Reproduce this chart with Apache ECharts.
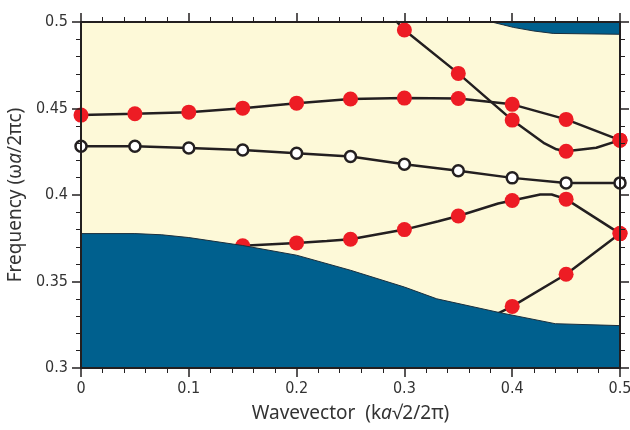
<!DOCTYPE html>
<html>
<head>
<meta charset="utf-8">
<script src="https://cdn.jsdelivr.net/npm/echarts@6/dist/echarts.min.js"></script>
<style>html,body{margin:0;padding:0;background:#fff;}#c{width:630px;height:430px;}</style>
</head>
<body>
<div id="c"></div>
<script>
// ---- data ----
const xTicks = [0, 0.1, 0.2, 0.3, 0.4, 0.5];
const yTicks = [0.3, 0.35, 0.4, 0.45, 0.5];

// upper red band
const upperX = [0, 0.05, 0.1, 0.15, 0.2, 0.25, 0.3, 0.35, 0.4, 0.45, 0.5];
const upperY = [0.4462, 0.4470, 0.4479, 0.4502, 0.4531, 0.4555, 0.4560, 0.4558, 0.4524, 0.4437, 0.4317];

// white (open circle) band
const whiteX = [0, 0.05, 0.1, 0.15, 0.2, 0.25, 0.3, 0.35, 0.4, 0.45, 0.5];
const whiteY = [0.4282, 0.4282, 0.4272, 0.4260, 0.4241, 0.4223, 0.4178, 0.4140, 0.4099, 0.4070, 0.4070];

// descending red band (1 = marker, 0 = bend only)
const descX = [0.292, 0.30, 0.35, 0.40, 0.43, 0.441, 0.45, 0.478, 0.50];
const descY = [0.5008, 0.4954, 0.4703, 0.4433, 0.4298, 0.4264, 0.4253, 0.4273, 0.4317];
const descM = [0, 1, 1, 1, 0, 0, 1, 0, 1];

// lower red band
const lowX = [0.15, 0.2, 0.228, 0.25, 0.3, 0.3315, 0.35, 0.387, 0.4, 0.426, 0.4366, 0.45, 0.5];
const lowY = [0.3706, 0.3723, 0.3734, 0.3744, 0.3800, 0.3848, 0.3879, 0.3951, 0.3968, 0.4003, 0.4003, 0.3976, 0.3777];
const lowM = [1, 1, 0, 1, 1, 0, 1, 0, 1, 0, 0, 1, 1];

// rising red band
const riseX = [0.385, 0.4, 0.45, 0.5];
const riseY = [0.3310, 0.3356, 0.3542, 0.3777];
const riseM = [0, 1, 1, 1];

// blue region boundaries
const blueLowX = [0, 0.05, 0.075, 0.1, 0.15, 0.2, 0.25, 0.3, 0.33, 0.39, 0.44, 0.5];
const blueLowY = [0.3777, 0.3777, 0.3770, 0.3754, 0.3708, 0.3652, 0.3565, 0.3468, 0.3400, 0.3318, 0.3256, 0.3245];
const blueTopX = [0.381, 0.392, 0.401, 0.42, 0.438, 0.5];
const blueTopY = [0.5, 0.4983, 0.4969, 0.4948, 0.4934, 0.4929];

// ---- styles ----
const RED = '#ed1c24', BLUE = '#00608e', CREAM = '#fdf9d8', INK = '#231f20';
const LABEL_FONT = "'Liberation Sans Narrow','DejaVu Sans Condensed','Liberation Sans',sans-serif";
const NAME_FONT = "'Noto Sans','Open Sans',sans-serif";

function pts(xs, ys, ms, sym) {
  return xs.map((x, i) => ({ value: [x, ys[i]], symbol: (ms ? ms[i] : 1) ? sym : 'none' }));
}
function redSeries(xs, ys, ms) {
  return {
    type: 'line', data: pts(xs, ys, ms, 'circle'), symbolSize: 15, showAllSymbol: true,
    itemStyle: { color: RED, borderWidth: 0 }, lineStyle: { color: INK, width: 2.5 },
    z: 3, animation: false, clip: true
  };
}

const chart = echarts.init(document.getElementById('c'), null, { renderer: 'canvas' });
const axisCommon = {
  type: 'value', min: 0, max: 0.5, interval: 0.1,
  axisLine: { show: true, onZero: false, lineStyle: { color: INK, width: 2 } },
  axisTick: { show: true, length: 9, lineStyle: { color: INK, width: 1.5 } },
  minorTick: { show: true, splitNumber: 5, length: 5, lineStyle: { color: INK, width: 1 } },
  splitLine: { show: false }, z: 10
};
chart.setOption({
  animation: false,
  grid: { left: 81, right: 10, top: 22, bottom: 62, show: true, backgroundColor: CREAM, borderWidth: 0,
          containLabel: false, outerBoundsMode: 'none' },
  xAxis: [
    Object.assign({}, axisCommon, {
      position: 'bottom',
      axisLabel: { show: true, margin: 13, fontSize: 16, color: '#333', fontFamily: LABEL_FONT,
        formatter: v => xTicks.includes(Math.round(v * 10) / 10) ? String(Math.round(v * 10) / 10) : '' },
      name: 'Wavevector  (k{i|a}√2/2π)', nameLocation: 'middle', nameGap: 36,
      nameTextStyle: { fontSize: 19, color: '#333', fontFamily: NAME_FONT,
        rich: { i: { fontStyle: 'italic', fontSize: 19, color: '#333', fontFamily: NAME_FONT } } }
    }),
    Object.assign({}, axisCommon, { position: 'top', axisLabel: { show: false } })
  ],
  yAxis: [
    Object.assign({}, axisCommon, {
      min: 0.3, max: 0.5, interval: 0.05, position: 'left',
      axisLabel: { show: true, margin: 13, fontSize: 16, color: '#333', fontFamily: LABEL_FONT,
        formatter: v => String(Math.round(v * 100) / 100) },
      name: 'Frequency (ω{i|a}/2πc)', nameLocation: 'middle', nameGap: 52, nameRotate: 90,
      nameTextStyle: { fontSize: 19, color: '#333', fontFamily: NAME_FONT,
        rich: { i: { fontStyle: 'italic', fontSize: 19, color: '#333', fontFamily: NAME_FONT } } }
    }),
    Object.assign({}, axisCommon, { min: 0.3, max: 0.5, interval: 0.05, position: 'right', axisLabel: { show: false } })
  ],
  series: [
    {
      type: 'line', data: whiteX.map((x, i) => [x, whiteY[i]]), symbol: 'circle', symbolSize: 11,
      itemStyle: { color: '#ffffff', borderColor: INK, borderWidth: 2.5 },
      lineStyle: { color: INK, width: 2.5 }, z: 3, animation: false
    },
    redSeries(upperX, upperY, null),
    redSeries(descX, descY, descM),
    redSeries(lowX, lowY, lowM),
    redSeries(riseX, riseY, riseM),
    {
      type: 'line', data: blueLowX.map((x, i) => [x, blueLowY[i]]), symbol: 'none',
      lineStyle: { color: '#1b2f3d', width: 1 }, areaStyle: { color: BLUE, opacity: 1, origin: 'start' },
      z: 6, animation: false
    },
    {
      type: 'line', data: blueTopX.map((x, i) => [x, blueTopY[i]]), symbol: 'none',
      lineStyle: { color: '#1b2f3d', width: 1 }, areaStyle: { color: BLUE, opacity: 1, origin: 'end' },
      z: 6, animation: false
    }
  ]
});
</script>
</body>
</html>
